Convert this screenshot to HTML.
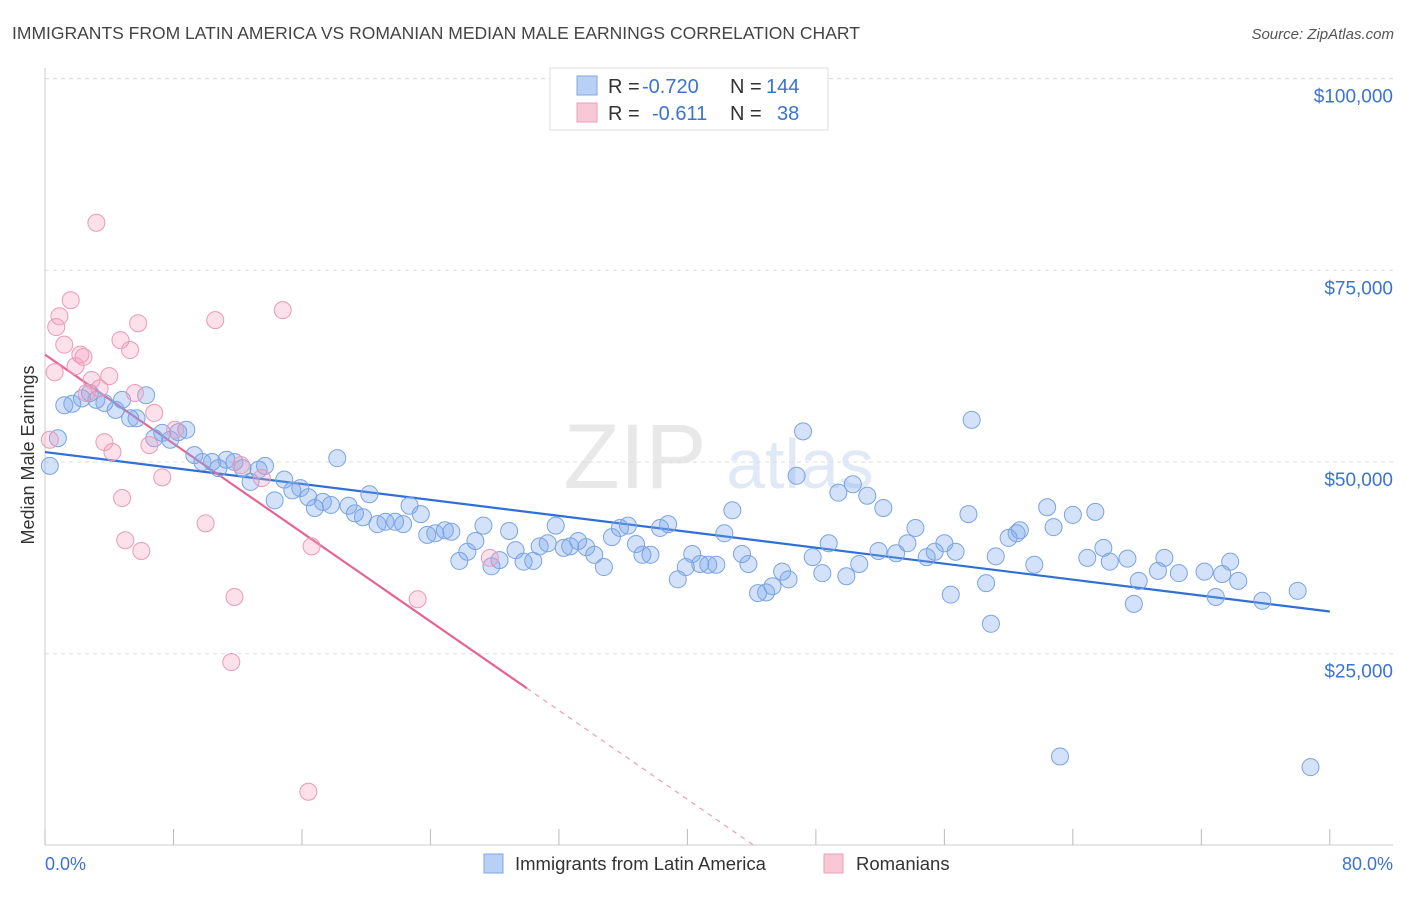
<!DOCTYPE html>
<html><head><meta charset="utf-8"><style>
body{margin:0;background:#fff;font-family:"Liberation Sans",sans-serif;}
svg text{font-family:"Liberation Sans",sans-serif;}
</style></head><body>
<svg id="chart" width="1406" height="892" xmlns="http://www.w3.org/2000/svg">
<text x="12" y="39" font-size="17.5" fill="#444">IMMIGRANTS FROM LATIN AMERICA VS ROMANIAN MEDIAN MALE EARNINGS CORRELATION CHART</text>
<text x="1394" y="39" font-size="15" fill="#555" text-anchor="end" font-style="italic">Source: ZipAtlas.com</text>
<g opacity="0.22">
<text x="635" y="488" font-size="92" fill="#999" text-anchor="middle" font-family="Liberation Serif">ZIP</text>
<text x="800" y="488" font-size="70" fill="#7aa0d8" text-anchor="middle">atlas</text>
</g>
<g id="grid"></g>
<g id="axes"></g>
<g id="trends"></g>
<g id="points"></g>
<text transform="translate(34,455) rotate(-90)" font-size="18" fill="#333" text-anchor="middle">Median Male Earnings</text>
<text x="45" y="870" font-size="18" fill="#3b73d1">0.0%</text>
<text x="1393" y="870" font-size="18" fill="#3b73d1" text-anchor="end">80.0%</text>
<g>
<rect x="550" y="68" width="278" height="62" fill="#fff" stroke="#ddd"/>
<rect x="577" y="76" width="20" height="19" fill="#b8d0f4" stroke="#7ea7e4"/>
<text x="608" y="93" font-size="20" fill="#333">R = </text><text x="642" y="93" font-size="20" fill="#3b73d1">-0.720</text>
<text x="730" y="93" font-size="20" fill="#333">N = </text><text x="766" y="93" font-size="20" fill="#3b73d1">144</text>
<rect x="577" y="103" width="20" height="19" fill="#f9c8d6" stroke="#ea9fb7"/>
<text x="608" y="120" font-size="20" fill="#333">R = </text><text x="652" y="120" font-size="20" fill="#3b73d1">-0.611</text>
<text x="730" y="120" font-size="20" fill="#333">N = </text><text x="777" y="120" font-size="20" fill="#3b73d1">38</text>
</g>
<g>
<rect x="484" y="854" width="19" height="19" fill="#b8d0f4" stroke="#7ea7e4"/>
<text x="515" y="870" font-size="18.5" fill="#333">Immigrants from Latin America</text>
<rect x="824" y="854" width="19" height="19" fill="#f9c8d6" stroke="#ea9fb7"/>
<text x="856" y="870" font-size="18.5" fill="#333">Romanians</text>
</g>
</svg>
<script>
const blueX=[0.3,0.8,1.2,1.7,2.3,2.8,3.2,3.7,4.4,4.8,5.3,5.7,6.3,6.8,7.3,7.8,8.3,8.8,9.3,9.8,10.4,10.8,11.3,11.8,12.3,12.8,13.3,13.7,14.3,14.9,15.4,15.9,16.4,16.8,17.3,17.8,18.2,18.9,19.3,19.8,20.2,20.7,21.2,21.8,22.3,22.7,23.4,23.8,24.3,24.9,25.3,25.8,26.3,26.8,27.3,27.8,28.3,28.9,29.3,29.8,30.4,30.8,31.3,31.8,32.3,32.7,33.2,33.7,34.2,34.8,35.3,35.8,36.3,36.8,37.2,37.7,38.3,38.8,39.4,39.9,40.3,40.8,41.3,41.8,42.3,42.8,43.4,43.8,44.4,44.9,45.3,45.9,46.3,46.8,47.2,47.8,48.4,48.8,49.4,49.9,50.3,50.7,51.2,51.9,52.2,53.0,53.7,54.2,54.9,55.4,56.0,56.4,56.7,57.5,57.7,58.6,58.9,59.2,60.0,60.5,60.7,61.6,62.4,62.8,64.0,64.9,65.4,65.9,66.3,67.4,67.8,68.1,69.3,69.7,70.6,72.2,72.9,73.3,73.8,74.3,75.8,78.0,63.2,78.8];
const blueY=[49.5,53.1,57.4,57.6,58.3,59.0,58.1,57.7,56.8,58.1,55.7,55.7,58.7,53.1,53.8,52.9,53.9,54.2,50.9,50.0,50.0,49.2,50.3,50.0,49.2,47.4,49.0,49.5,45.0,47.7,46.3,46.6,45.4,44.0,44.8,44.4,50.5,44.3,43.3,42.8,45.8,41.9,42.2,42.2,41.9,44.3,43.2,40.5,40.7,41.1,40.9,37.1,38.3,39.7,41.7,36.4,37.2,41.0,38.5,37.0,37.1,39.0,39.4,41.7,38.8,39.0,39.7,38.9,37.9,36.3,40.2,41.4,41.7,39.3,37.9,37.9,41.4,41.9,34.7,36.3,38.0,36.7,36.6,36.6,40.7,43.7,38.0,36.7,32.9,33.0,33.8,35.7,34.7,48.2,54.0,37.6,35.5,39.4,46.0,35.1,47.1,36.7,45.6,38.4,44.0,38.1,39.4,41.4,37.6,38.3,39.4,32.7,38.3,43.2,55.5,34.2,28.9,37.7,40.1,40.7,41.1,36.6,44.1,41.5,43.1,37.5,43.5,38.8,37.0,37.4,31.5,34.5,35.8,37.5,35.5,35.7,32.4,35.4,37.0,34.5,31.9,33.2,11.6,10.2];
const pinkX=[0.3,0.6,0.7,0.9,1.2,1.6,1.9,2.2,2.4,2.6,2.9,3.2,3.4,3.7,4.0,4.2,4.7,4.8,5.0,5.3,5.8,6.0,5.6,6.5,6.8,7.3,8.1,10.0,10.6,11.8,11.6,12.2,13.5,14.8,16.4,16.6,23.2,27.7];
const pinkY=[52.9,61.7,67.6,69.0,65.3,71.1,62.5,64.0,63.7,59.0,60.7,81.2,59.6,52.6,61.2,51.3,65.9,45.3,39.8,64.6,68.1,38.4,59.0,52.2,56.4,48.0,54.2,42.0,68.5,32.4,23.9,49.6,47.9,69.8,7.0,39.0,32.1,37.5];
const blueTrend=[51.3,-0.26]; // intercept ($k), slope per %
const pinkTrend=[64.0,-1.45];
const pinkSolidEnd=30;
const yTicks=[25,50,75,100];
const yTickLabels=["$25,000","$50,000","$75,000","$100,000"];
const xTicks=[0,8,16,24,32,40,48,56,64,72,80];

const NS="http://www.w3.org/2000/svg";
const sx=p=>45+p*16.06;
const sy=k=>462-(k-50)*7.668;
function mk(tag,attrs,parent){const e=document.createElementNS(NS,tag);for(const k in attrs)e.setAttribute(k,attrs[k]);parent.appendChild(e);return e;}
const grid=document.getElementById('grid'),axes=document.getElementById('axes'),trends=document.getElementById('trends'),pts=document.getElementById('points');
mk('line',{x1:45,x2:1393,y1:sy(100),y2:sy(100),stroke:'#ddd','stroke-dasharray':'4,4'},grid);
yTicks.forEach((t,i)=>{
  const g=mk('line',{x1:45,x2:1393,y1:sy(t),y2:sy(t),stroke:'#ddd','stroke-dasharray':'4,4'},grid);
  
  
  const tx=mk('text',{x:1393,y:sy(t)+24,'font-size':19,fill:'#3b73d1','text-anchor':'end'},grid);
  tx.textContent=yTickLabels[i];
  
  
});
const xa=mk('line',{x1:45,x2:1393,y1:845,y2:845,stroke:'#ccc'},axes);


const ya=mk('line',{x1:45,x2:45,y1:68,y2:845,stroke:'#ccc'},axes);


xTicks.forEach(t=>{const l=mk('line',{x1:sx(t),x2:sx(t),y1:829,y2:845,stroke:'#bbb'},axes);
  
  });
function drawPts(X,Y,fill,stroke,name){X.forEach((x,i)=>{const c=mk('circle',{cx:sx(x),cy:sy(Y[i]),r:8.5,fill:fill,stroke:stroke,'stroke-width':1},pts);
  
  });}
drawPts(blueX,blueY,'rgba(120,165,235,0.32)','#79a4e2','latin-america-point');
drawPts(pinkX,pinkY,'rgba(245,160,190,0.32)','#eb9ab6','romanian-point');
const bt=mk('line',{x1:sx(0),y1:sy(blueTrend[0]),x2:sx(80),y2:sy(blueTrend[0]+blueTrend[1]*80),stroke:'#2e6fd8','stroke-width':2.2},trends);


const pt=mk('line',{x1:sx(0),y1:sy(pinkTrend[0]),x2:sx(pinkSolidEnd),y2:sy(pinkTrend[0]+pinkTrend[1]*pinkSolidEnd),stroke:'#e6658f','stroke-width':2.2},trends);


const zeroX=-pinkTrend[0]/pinkTrend[1];
const pd=mk('line',{x1:sx(pinkSolidEnd),y1:sy(pinkTrend[0]+pinkTrend[1]*pinkSolidEnd),x2:sx(zeroX),y2:sy(0),stroke:'#e6a0b8','stroke-width':1.2,'stroke-dasharray':'5,5'},trends);


</script>
</body></html>
